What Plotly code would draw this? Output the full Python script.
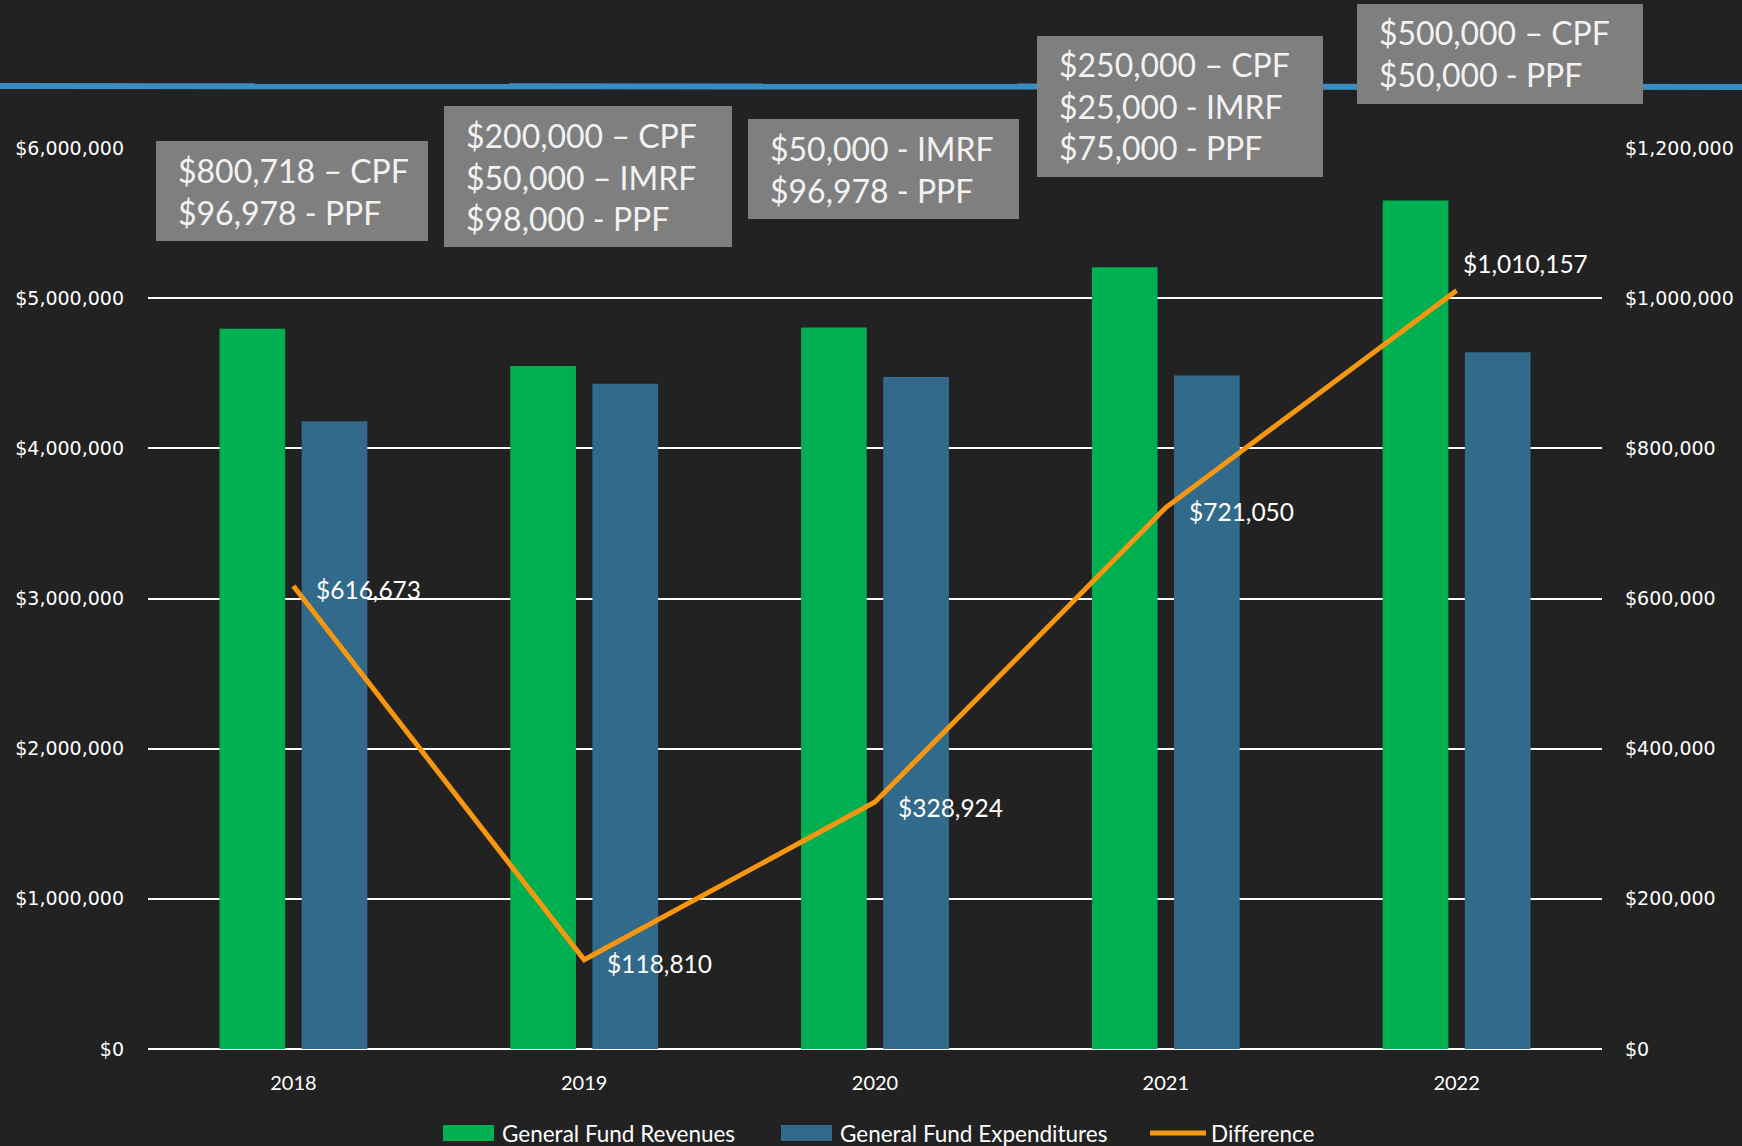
import plotly.graph_objects as go

# ---- data -------------------------------------------------------------
years = ["2018", "2019", "2020", "2021", "2022"]
revenues = [4_797_000, 4_549_000, 4_804_000, 5_206_000, 5_650_000]
expenditures = [4_180_000, 4_430_000, 4_475_000, 4_485_000, 4_640_000]
difference = [616_673, 118_810, 328_924, 721_050, 1_010_157]

# transfers listed above each year
transfer_notes = [
    ["$800,718 – CPF", "$96,978 - PPF"],
    ["$200,000 – CPF", "$50,000 – IMRF", "$98,000 - PPF"],
    ["$50,000 - IMRF", "$96,978 - PPF"],
    ["$250,000 – CPF", "$25,000 - IMRF", "$75,000 - PPF"],
    ["$500,000 – CPF", "$50,000 - PPF"],
]

series_names = ["General Fund Revenues", "General Fund Expenditures", "Difference"]
series_colors = ["#00B050", "#326A8B", "#F7960F"]

# ---- page geometry (pixels) --------------------------------------------
W, H = 1742, 1146
L, R, T, B = 148, 140, 148, 97
PW, PH = W - L - R, H - T - B


def px(x):
    return (x - L) / PW


def py(y):
    return (H - B - y) / PH


# note boxes: left, top, right, bottom in page pixels
note_boxes = [
    (156, 141, 428, 241),
    (444, 106, 732, 247),
    (748, 119, 1019, 219),
    (1037, 36, 1323, 177),
    (1357, 4, 1643, 104),
]
# offsets of the value labels from their line points (pixels)
label_shift = [(21, -4), (21, -4), (21, -5), (21, -4), (4, 27)]

FONT = "Lato"
AXIS_FONT = "DejaVu Sans"
BG = "#222222"

fig = go.Figure()
fig.add_bar(x=years, y=revenues, name=series_names[0],
            marker=dict(color=series_colors[0], line=dict(width=0)))
fig.add_bar(x=years, y=expenditures, name=series_names[1],
            marker=dict(color=series_colors[1], line=dict(width=0)))
fig.add_scatter(x=years, y=difference, name=series_names[2], yaxis="y2",
                mode="lines", line=dict(color=series_colors[2], width=5),
                cliponaxis=False)

shapes = [
    # blue brush stroke across the top
    dict(type="line", xref="paper", yref="paper", x0=px(0), x1=px(W),
         y0=py(86), y1=py(87), line=dict(color="#3A8CC0", width=6), layer="below"),
]
annotations = []
for (x0, y0, x1, y1), lines in zip(note_boxes, transfer_notes):
    shapes.append(dict(type="rect", xref="paper", yref="paper",
                       x0=px(x0), x1=px(x1), y0=py(y1), y1=py(y0),
                       fillcolor="#7F7F7F", line=dict(width=0), layer="above"))
    annotations.append(dict(xref="paper", yref="paper",
                            x=px(x0 + 20), y=py((y0 + y1) / 2),
                            xanchor="left", yanchor="middle", align="left",
                            text="<br>".join(lines), showarrow=False,
                            font=dict(color="#F2F2F2", size=32, family=FONT)))

# value labels on the difference line (x given as category index)
for i, (v, (dx, dy)) in enumerate(zip(difference, label_shift)):
    annotations.append(dict(xref="x", yref="y2", x=i, y=v, xshift=dx, yshift=dy,
                            xanchor="left", yanchor="middle", showarrow=False,
                            text=f"${v:,}",
                            font=dict(color="#FFFFFF", size=24.5, family=FONT)))

# legend along the bottom
LEG_Y = 1133
legend_items = [(443, 500), (781, 838), (1150, 1209)]
for i, ((sx, tx), name, col) in enumerate(zip(legend_items, series_names, series_colors)):
    if i < 2:
        shapes.append(dict(type="rect", xref="paper", yref="paper",
                           x0=px(sx), x1=px(sx + 51), y0=py(LEG_Y + 8), y1=py(LEG_Y - 8),
                           fillcolor=col, line=dict(width=0)))
    else:
        shapes.append(dict(type="line", xref="paper", yref="paper",
                           x0=px(sx), x1=px(sx + 56), y0=py(LEG_Y), y1=py(LEG_Y),
                           line=dict(color=col, width=5)))
    annotations.append(dict(xref="paper", yref="paper", x=px(tx), y=py(LEG_Y),
                            xanchor="left", yanchor="middle", showarrow=False,
                            text=name, font=dict(color="#FFFFFF", size=22.5, family=FONT)))

fig.update_layout(
    width=W, height=H,
    margin=dict(l=L, r=R, t=T, b=B, pad=0, autoexpand=False),
    paper_bgcolor=BG, plot_bgcolor=BG,
    font=dict(family=FONT, color="#FFFFFF", size=16),
    barmode="group", bargap=0.435, bargroupgap=0.2,
    showlegend=False,
    xaxis=dict(type="category", range=[-0.5, len(years) - 0.5],
               showgrid=False, showline=False, ticks="",
               tickfont=dict(size=20, color="#FFFFFF", family=FONT), ticklabelstandoff=20),
    yaxis=dict(range=[0, 6_000_000], dtick=1_000_000, tickprefix="$",
               tickformat=",d", showgrid=True, gridcolor="#FFFFFF", gridwidth=2,
               zeroline=True, zerolinecolor="#FFFFFF", zerolinewidth=2,
               showline=False, ticks="", ticklabelstandoff=23,
               tickfont=dict(size=19, color="#FFFFFF", family=AXIS_FONT)),
    yaxis2=dict(range=[0, 1_200_000], dtick=200_000, tickprefix="$",
                tickformat=",d", overlaying="y", side="right", showgrid=False,
                zeroline=False, showline=False, ticks="", ticklabelstandoff=22,
                tickfont=dict(size=19, color="#FFFFFF", family=AXIS_FONT)),
    shapes=shapes,
    annotations=annotations,
)

fig.write_html("out.html")
